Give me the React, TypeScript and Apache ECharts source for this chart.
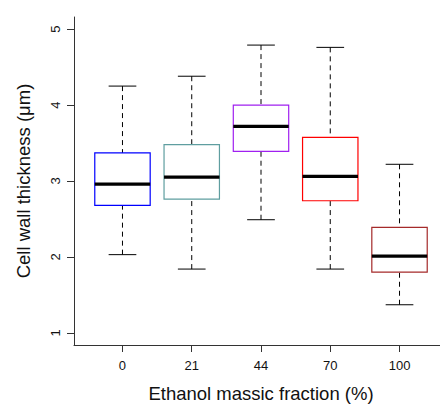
import React, { useEffect, useRef } from "react";
import * as echarts from "echarts";

const categories = ["0", "21", "44", "70", "100"];
const whiskerLow = [2.03, 1.84, 2.49, 1.84, 1.37];
const q1 = [2.68, 2.76, 3.39, 2.74, 1.8];
const median = [2.96, 3.05, 3.72, 3.06, 2.01];
const q3 = [3.37, 3.48, 4.0, 3.575, 2.39];
const whiskerHigh = [4.25, 4.38, 4.79, 4.76, 3.22];
const boxColors = ["#0000FF", "#5F9EA0", "#A020F0", "#FF0000", "#A52A2A"];
const yTicks = [1, 2, 3, 4, 5];
const xTicks = [1, 2, 3, 4, 5];

export default function App() {
  const ref = useRef<HTMLDivElement>(null);
  useEffect(() => {
    if (!ref.current) return;
    const chart = echarts.init(ref.current, null, { renderer: "svg" });
    const data = categories.map((_, i) => [
      i + 1,
      whiskerLow[i],
      q1[i],
      median[i],
      q3[i],
      whiskerHigh[i],
    ]);
    const font = "'Liberation Sans', Arial, sans-serif";
    chart.setOption({
      animation: false,
      backgroundColor: "#ffffff",
      grid: {
        left: 74,
        right: -8,
        top: 17,
        bottom: 59,
        containLabel: false,
        outerBoundsMode: "none",
      },
      xAxis: {
        type: "value",
        min: 0.3,
        max: 5.7,
        name: "Ethanol massic fraction (%)",
        nameLocation: "middle",
        nameGap: 39,
        nameTextStyle: { fontFamily: font, fontSize: 18.5, color: "#111" },
        axisLine: { show: true, onZero: false, lineStyle: { color: "#333", width: 1 } },
        axisTick: { show: true, length: 7, customValues: xTicks, lineStyle: { color: "#333" } },
        axisLabel: {
          customValues: xTicks,
          margin: 14,
          fontFamily: font,
          fontSize: 13,
          color: "#111",
          formatter: (v: number) => categories[Math.round(v) - 1] ?? "",
        },
        splitLine: { show: false },
      },
      yAxis: {
        type: "value",
        min: 0.84,
        max: 5.16,
        name: "Cell wall thickness (μm)",
        nameLocation: "middle",
        nameGap: 41,
        nameTextStyle: { fontFamily: font, fontSize: 18.5, color: "#111" },
        axisLine: { show: true, onZero: false, lineStyle: { color: "#333", width: 1 } },
        axisTick: { show: true, length: 7, customValues: yTicks, lineStyle: { color: "#333" } },
        axisLabel: {
          customValues: yTicks,
          rotate: 90,
          margin: 12,
          fontFamily: font,
          fontSize: 13,
          color: "#111",
        },
        splitLine: { show: false },
      },
      series: [
        {
          type: "custom",
          data,
          renderItem: (params: any, api: any) => {
            const x = api.value(0);
            const pMin = api.coord([x, api.value(1)]);
            const pQ1 = api.coord([x, api.value(2)]);
            const pMed = api.coord([x, api.value(3)]);
            const pQ3 = api.coord([x, api.value(4)]);
            const pMax = api.coord([x, api.value(5)]);
            const band = api.size([1, 0])[0];
            const boxW = band * 0.8;
            const capW = boxW * 0.5;
            const cx = pMed[0];
            const color = boxColors[params.dataIndex];
            const dash = { stroke: "#000", lineWidth: 1, lineDash: [5, 4] };
            const solid = { stroke: "#000", lineWidth: 1 };
            return {
              type: "group",
              children: [
                { type: "line", shape: { x1: cx, y1: pMax[1], x2: cx, y2: pQ3[1] }, style: dash },
                { type: "line", shape: { x1: cx, y1: pMin[1], x2: cx, y2: pQ1[1] }, style: dash },
                { type: "line", shape: { x1: cx - capW / 2, y1: pMax[1], x2: cx + capW / 2, y2: pMax[1] }, style: solid },
                { type: "line", shape: { x1: cx - capW / 2, y1: pMin[1], x2: cx + capW / 2, y2: pMin[1] }, style: solid },
                {
                  type: "rect",
                  shape: { x: cx - boxW / 2, y: pQ3[1], width: boxW, height: pQ1[1] - pQ3[1] },
                  style: { fill: "#fff", stroke: color, lineWidth: 1.2 },
                },
                {
                  type: "line",
                  shape: { x1: cx - boxW / 2, y1: pMed[1], x2: cx + boxW / 2, y2: pMed[1] },
                  style: { stroke: "#000", lineWidth: 3.2 },
                },
              ],
            };
          },
        },
      ],
    });
    return () => chart.dispose();
  }, []);
  return (
    <div
      ref={ref}
      style={{ position: "absolute", left: 0, top: 0, width: 440, height: 404 }}
    />
  );
}
